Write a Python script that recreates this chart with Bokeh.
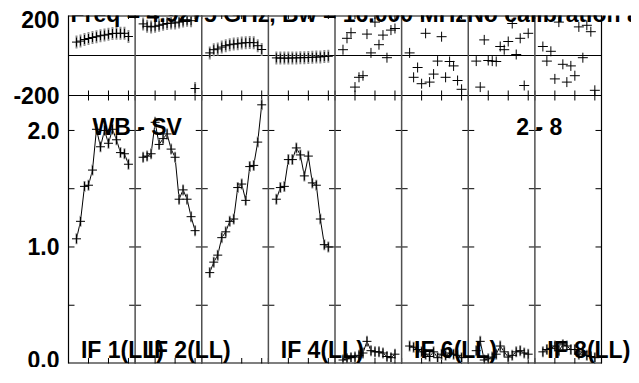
import math
from bokeh.plotting import figure
from bokeh.models import Range1d, FixedTicker, Span, Label
from bokeh.embed import file_html
from bokeh.resources import INLINE

# ---------------- data ----------------
channels = list(range(2, 16))          # 14 channels shown per IF
if_labels = ["IF 1(LL)", "IF 2(LL)", "IF 3(LL)", "IF 4(LL)",
             "IF 5(LL)", "IF 6(LL)", "IF 7(LL)", "IF 8(LL)"]
shown_if_labels = [0, 1, 3, 5, 7]

amp_if1 = [1.07, 1.22, 1.52, 1.53, 1.66, 2.01, 1.86, 2.00, 1.89, 2.01, 1.92, 1.81, 1.80, 1.71]
amp_if2 = [1.77, 1.78, 1.80, 2.07, 1.88, 1.93, 1.97, 1.84, 1.77, 1.41, 1.49, 1.41, 1.26, 1.14]
amp_if3 = [0.78, 0.87, 0.93, 1.08, 1.13, 1.22, 1.24, 1.51, 1.54, 1.40, 1.69, 1.70, 1.90, 2.22]
amp_if4 = [1.41, 1.51, 1.52, 1.75, 1.75, 1.85, 1.79, 1.61, 1.78, 1.55, 1.53, 1.24, 1.02, 1.00]
amp_if5 = [0.03, 0.04, 0.05, 0.055, 0.07, 0.09, 0.19, 0.11, 0.10, 0.10, 0.09, 0.06, 0.05, 0.08]
amp_if6 = [0.15, 0.14, 0.12, 0.10, 0.08, 0.06, 0.10, 0.05, 0.08, 0.07, 0.09, 0.08, 0.07, 0.05]
amp_if7 = [0.11, 0.19, 0.03, 0.04, 0.055, 0.08, 0.15, 0.10, 0.055, 0.07, 0.10, 0.11, 0.09, 0.08]
amp_if8 = [0.10, 0.12, 0.13, 0.15, 0.11, 0.16, 0.15, 0.12, 0.12, 0.08, 0.10, 0.07, 0.06, 0.05]

phase_if1 = [67, 72, 80, 85, 90, 94, 99, 102, 106, 110, 111, 111, 111, 95]
phase_if2 = [158, 146, 143, 146, 151, 156, 160, 162, 163, 167, 172, 176, 174, -165]
phase_if3 = [13, 29, 33, 42, 49, 54, 57, 59, 62, 64, 65, 64, 49, 30]
phase_if4 = [-12, -13, -13, -13, -12, -12, -11, -11, -10, -9, -8, -7, -5, -4]
phase_if5 = [29, 86, 114, -158, -109, -101, 107, 13, 167, 54, 102, -11, 127, 135]
phase_if6 = [13, -109, -60, -141, 111, -133, -93, -28, 94, -109, -30, -52, -125, -169]
phase_if7 = [-28, -158, 78, -25, -28, -30, 45, 29, 70, 160, 5, 86, -150, 111]
phase_if8 = [45, -28, 21, -117, 167, -44, -133, -52, -101, 143, -11, 151, 119, -174]

amps = [amp_if1, amp_if2, amp_if3, amp_if4, amp_if5, amp_if6, amp_if7, amp_if8]
phases = [phase_if1, phase_if2, phase_if3, phase_if4, phase_if5, phase_if6, phase_if7, phase_if8]

title_text = "Freq = 4.9275 GHz, Bw = 16.000 MHz"
title_text2 = "No calibration applied"
baseline_text = "WB - SV"
scan_text = "2 - 8"

amp_ticks = [0.5, 1.0, 1.5, 2.0]          # tick marks on column borders
amp_labels = {0.0: "0.0", 1.0: "1.0", 2.0: "2.0"}
phase_min, phase_max = -200, 200
amp_top = 2.3
chan_ticks = [5, 10, 15]

# ---------------- layout ----------------
FONT = "Liberation Sans"
W = 50.0 / 3.0                # channel units per IF column
N_IF = 8
X_END = N_IF * W              # right edge of the plotted box
WIDTH, HEIGHT = 631, 367
LEFT = 68
BOX_W = 533                   # drawn box width; frame runs on to the canvas edge
FRAME_H = 348
TOP_PX = 80                   # height of the phase panel
AMP_PX = FRAME_H - TOP_PX
px_per_amp = AMP_PX / amp_top
px_per_unit = BOX_W / X_END
x_frame_end = (WIDTH - LEFT) / px_per_unit
y_end = amp_top * FRAME_H / AMP_PX
phase_start = phase_max - (phase_max - phase_min) * FRAME_H / TOP_PX

p = figure(width=WIDTH, height=HEIGHT, output_backend="svg", toolbar_location=None,
           x_range=Range1d(0, x_frame_end), y_range=Range1d(0, y_end),
           min_border_left=LEFT, min_border_right=0, min_border_top=15,
           min_border_bottom=4)
p.extra_y_ranges = {"phase": Range1d(phase_start, phase_max)}
p.xgrid.visible = False
p.ygrid.visible = False
p.xaxis.visible = False
p.outline_line_color = None
p.background_fill_color = "white"
p.border_fill_color = "white"

# y axis: amplitude labels plus the phase panel limits
top_label_pos = y_end - 4 / px_per_amp
y_ticks = list(amp_labels.keys()) + [amp_top, top_label_pos]
overrides = dict(amp_labels)
overrides[amp_top] = str(phase_min)
overrides[top_label_pos] = str(phase_max)
for ax in p.yaxis:
    ax.ticker = FixedTicker(ticks=y_ticks)
    ax.major_label_overrides = overrides
    ax.major_label_text_font = FONT
    ax.major_label_text_font_style = "bold"
    ax.major_label_text_font_size = "23px"
    ax.major_label_text_color = "black"
    ax.major_label_standoff = 9
    ax.major_tick_in = 0
    ax.major_tick_out = 0
    ax.minor_tick_line_color = None
    ax.axis_line_color = "black"
    ax.axis_line_width = 1.2

# box edges, column separators, panel divider and zero-phase line
p.add_layout(Span(location=X_END, dimension="height", line_color="black", line_width=1.2))
for c in range(1, N_IF):
    p.add_layout(Span(location=c * W, dimension="height", line_color="#505050", line_width=1.5))
p.segment(x0=[0, 0, 0], x1=[X_END] * 3, y0=[0, amp_top, y_end], y1=[0, amp_top, y_end],
          line_color="black", line_width=[2, 1.2, 2])
p.segment(x0=[0], x1=[X_END], y0=[0], y1=[0], y_range_name="phase",
          line_color="black", line_width=1.2)

# tick marks along column borders (amplitude); right edge ticks point inward only
bx, by = [], []
for c in range(N_IF):
    for t in amp_ticks:
        bx.append(c * W)
        by.append(t)
p.scatter(bx, by, marker="dash", size=12, line_color="black", line_width=1)
p.scatter([X_END - 3 / px_per_unit] * len(amp_ticks), amp_ticks, marker="dash",
          size=6, line_color="black", line_width=1)

# channel tick marks: bottom edge, panel divider, top edge
xt = []
for c in range(N_IF):
    xt += [c * W + t for t in chan_ticks]
xt_all = xt + [c * W for c in range(N_IF + 1)]
p.scatter(xt_all, [0] * len(xt_all), marker="dash", angle=math.pi / 2,
          size=11, line_color="black", line_width=1)
p.scatter(xt_all, [amp_top] * len(xt_all), marker="dash", angle=math.pi / 2,
          size=10, line_color="black", line_width=1)
p.scatter(xt_all, [y_end] * len(xt_all), marker="dash", angle=math.pi / 2,
          size=7, line_color="black", line_width=1)

# data
for i in range(N_IF):
    xs = [i * W + ch for ch in channels]
    # amplitude
    p.line(xs, amps[i], line_color="black", line_width=1)
    p.scatter(xs, amps[i], marker="dash", angle=math.pi / 2, size=11,
              line_color="#8c8c8c", line_width=2)
    p.scatter(xs, amps[i], marker="cross", size=9, line_color="black", line_width=1)
    # phase
    if i < 4:
        p.scatter(xs, phases[i], marker="dash", angle=math.pi / 2, size=13,
                  line_color="#8c8c8c", line_width=2, y_range_name="phase")
        p.scatter(xs, phases[i], marker="cross", size=9, line_color="black",
                  line_width=1, y_range_name="phase")
    else:
        p.scatter(xs, phases[i], marker="cross", size=10, line_color="black",
                  line_width=1, y_range_name="phase")

# texts
def lab(x, y, text):
    p.add_layout(Label(x=x, y=y, text=text, text_font=FONT, text_font_style="bold",
                       text_font_size="23px", text_color="black",
                       text_baseline="alphabetic", text_align="left"))

for i in shown_if_labels:
    lab(i * W + 3.1, 14 / px_per_amp, if_labels[i])
lab(6.0, 2.0 + 3 / px_per_amp, baseline_text)
lab(112.0, 2.0 + 3 / px_per_amp, scan_text)
lab(0.5, y_end + 2 / px_per_amp, title_text)
lab(99.75, y_end + 2 / px_per_amp, title_text2)

open("out.html", "w").write(file_html(p, INLINE))
